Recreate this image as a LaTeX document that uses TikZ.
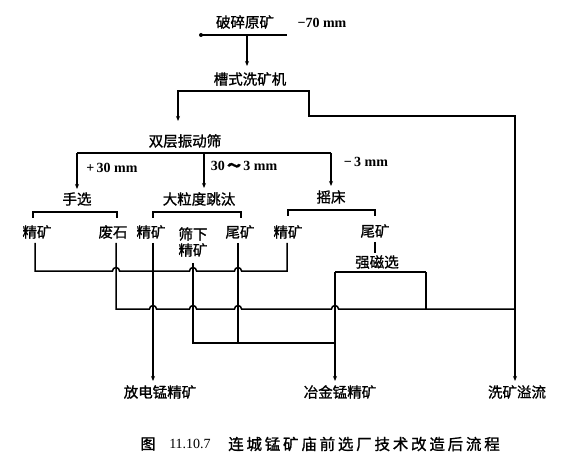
\documentclass[tikz,border=0pt]{standalone}
\usepackage{fontspec}
\setmainfont{Liberation Serif}
\newfontfamily\cjk[FakeBold=1.2]{Noto Sans CJK SC}
\newfontfamily\cjkcap[LetterSpace=18,FakeBold=1.2]{Noto Sans CJK SC}
\usetikzlibrary{arrows.meta}
\begin{document}
\begin{tikzpicture}[x=1pt,y=-1pt,
  lab/.style={font=\cjk\fontsize{14.5}{16}\selectfont, inner sep=0pt, align=center},
  num/.style={font=\bfseries\fontsize{14}{14}\selectfont, inner sep=0pt},
  ln/.style={line width=1.5pt},
  barline/.style={line width=2.4pt},
  arr/.style={line width=1.5pt,-{Stealth[length=5pt,width=4pt]}}]
\useasboundingbox (0,0) rectangle (579,468);
% ---- labels
\node[lab] (crush) at (245,22) {破碎原矿};
\node[num] (m70) at (322,23) {−70 mm};
\node[lab] (wash) at (250,79) {槽式洗矿机};
\node[lab] (screen) at (185,141) {双层振动筛};
\node[num] (p30) at (112,168) {+\,30 mm};
\node[num] (m303) at (244,166) {30\,{\cjk ～}\,3 mm};
\node[num] (m3) at (366,162) {−\,3 mm};
\node[lab] (hand) at (77,199) {手选};
\node[lab] (jig) at (199,199) {大粒度跳汰};
\node[lab] (table) at (331,197) {摇床};
\node[lab] (hc) at (37,232) {精矿};
\node[lab] (hw) at (113,232) {废石};
\node[lab] (jc) at (151,232) {精矿};
\node[lab] (ju) at (193,242) {筛下\\精矿};
\node[lab] (jt) at (240,232) {尾矿};
\node[lab] (tc) at (288,232) {精矿};
\node[lab] (tt) at (375,231) {尾矿};
\node[lab] (mag) at (377,262) {强磁选};
\node[lab] (pA) at (160,392) {放电锰精矿};
\node[lab] (pB) at (340,392) {冶金锰精矿};
\node[lab] (pC) at (517,392) {洗矿溢流};
\node[lab, font=\cjk\fontsize{15}{15}\selectfont] (figw) at (148,444) {图};
\node[num, font=\fontsize{14}{14}\selectfont] (fign) at (190,444) {11.10.7};
\node[lab, font=\cjkcap\fontsize{15.5}{16}\selectfont] (cap) at (364,444) {连城锰矿庙前选厂技术改造后流程};
% ---- coordinates
\coordinate (c1L) at (201,35); \coordinate (c1R) at (287,35); \coordinate (c1M) at (247,35);
\coordinate (c1E) at (247,66);
\coordinate (w1L) at (178,91); \coordinate (w1R) at (309,91);
\coordinate (w1E) at (178,121);
\coordinate (ovTop) at (515,116); \coordinate (ovEnd) at (515,381);
\coordinate (s1L) at (77,153); \coordinate (s1M) at (204,153); \coordinate (s1R) at (331,153);
\coordinate (s1LE) at (77,189); \coordinate (s1ME) at (204,188); \coordinate (s1RE) at (331,186);
\coordinate (hcS) at (35,243); \coordinate (hwS) at (116,243); \coordinate (jcS) at (153,243);
\coordinate (juS) at (193,263); \coordinate (jtS) at (238,243); \coordinate (tcS) at (287,243);
\coordinate (ttS) at (375,242); \coordinate (ttE) at (375,253);
\coordinate (pAn) at (153,381); \coordinate (pBn) at (335,381);
\coordinate (mgL) at (335,272); \coordinate (mgR) at (426,272);
% ---- crushed ore to washer
\draw[barline] (c1L) -- (c1R);
\fill (c1L) circle (2);
\draw[arr] (c1M) -- (c1E);
% ---- washer
\draw[barline] (178,96) -- (w1L) -- (w1R) -- (309,96);
\draw[arr] (w1L) -- (w1E);
\draw[arr] (w1R) -- (309,116) -- (ovTop) -- (ovEnd);
% ---- screen
\draw[barline] (s1L) -- (s1R);
\draw[arr] (s1L) -- (s1LE);
\draw[arr] (s1M) -- (s1ME);
\draw[arr] (s1R) -- (s1RE);
% ---- process bars
\draw[barline] (33,218) -- (33,212) -- (117,212) -- (117,218);
\draw[barline] (153,218) -- (153,212) -- (241,212) -- (241,218);
\draw[barline] (288,216) -- (288,210) -- (375,210) -- (375,216);
% ---- product lines
\draw[ln] (hcS) -- (35,271) -- (112.5,271) arc[start angle=180,end angle=360,radius=3.5]
  -- (189.5,271) arc[start angle=180,end angle=360,radius=3.5]
  -- (234.5,271) arc[start angle=180,end angle=360,radius=3.5]
  -- (287,271) -- (tcS);
\draw[arr] (jcS) -- (pAn);
\draw[ln] (hwS) -- (116,309) -- (149.5,309) arc[start angle=180,end angle=360,radius=3.5]
  -- (189.5,309) arc[start angle=180,end angle=360,radius=3.5]
  -- (234.5,309) arc[start angle=180,end angle=360,radius=3.5]
  -- (331.5,309) arc[start angle=180,end angle=360,radius=3.5]
  -- (515,309);
\draw[ln] (juS) -- (193,343) -- (335,343);
\draw[ln] (jtS) -- (238,343);
\draw[line width=2pt] (ttS) -- (ttE);
\draw[barline] (mgL) -- (mgR);
\draw[arr] (mgL) -- (pBn);
\draw[ln] (mgR) -- (426,309);
\end{tikzpicture}
\end{document}
